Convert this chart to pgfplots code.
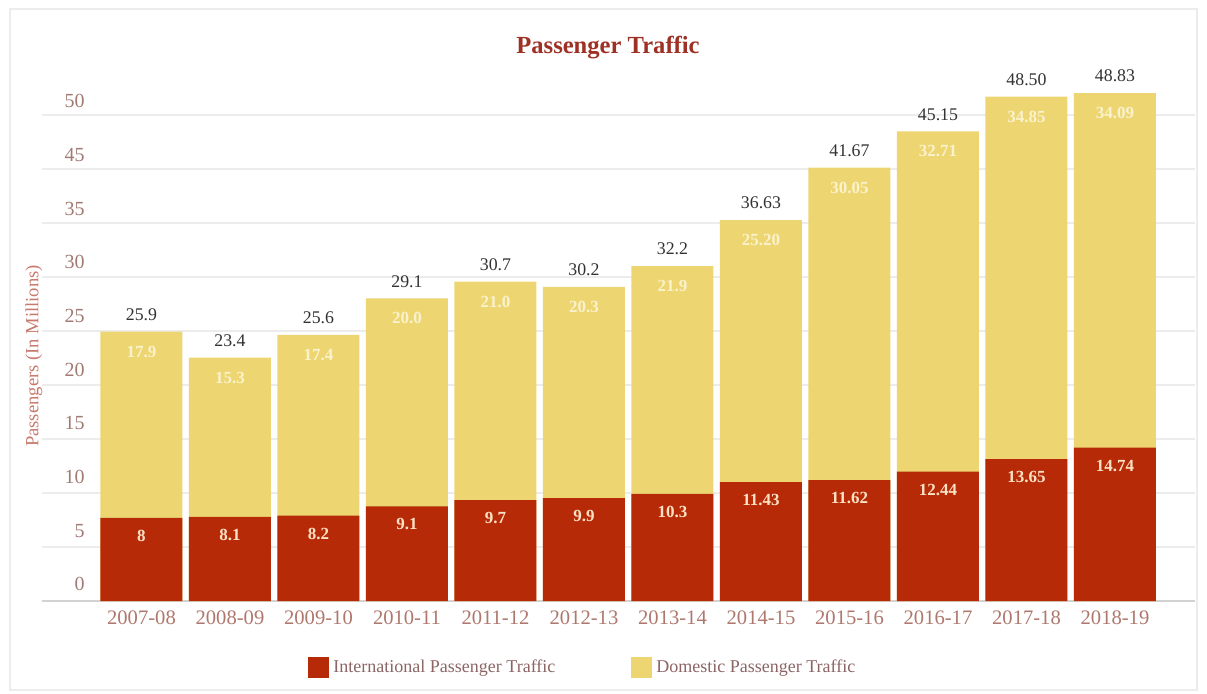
\documentclass[border=0pt]{standalone}
\usepackage{pgfplots}
\pgfplotsset{compat=1.18}
\usepackage{fontspec}
\setmainfont{Liberation Serif}
\definecolor{intl}{RGB}{182,42,8}
\definecolor{dom}{RGB}{237,214,114}
\definecolor{titlec}{RGB}{158,48,36}
\definecolor{ylabc}{RGB}{200,120,108}
\definecolor{tickc}{RGB}{175,120,110}
\definecolor{legc}{RGB}{140,100,100}
\definecolor{gridc}{RGB}{236,236,236}
\definecolor{totc}{RGB}{50,50,50}
\definecolor{inlab}{RGB}{250,242,205}
\definecolor{redlab}{RGB}{252,226,196}
\begin{document}
\begin{tikzpicture}
\path[use as bounding box] (0,0) rectangle (603.5pt,346.5pt);
\draw[gray!15, line width=0.8pt] (5pt,1.5pt) rectangle (598.5pt,342pt);
\node[font=\bfseries\fontsize{12.3}{14}\selectfont, text=titlec] at (304pt,322.5pt) {Passenger Traffic};
\node[rotate=90, font=\fontsize{9.3}{11}\selectfont, text=ylabc] at (17pt,168.5pt) {Passengers (In Millions)};
\begin{axis}[
  at={(21pt,46pt)}, anchor=south west, scale only axis,
  width=576.5pt, height=286pt,
  xmin=-1.124, xmax=11.904, ymin=0, ymax=55,
  axis line style={draw=none},
  major tick length=0pt,
  xtick={0,1,2,3,4,5,6,7,8,9,10,11},
  xticklabels={2007-08,2008-09,2009-10,2010-11,2011-12,2012-13,2013-14,2014-15,2015-16,2016-17,2017-18,2018-19},
  xticklabel style={font=\fontsize{10.3}{12}\selectfont, text=tickc, yshift=-1.5pt},
  ytick={1.6,6.76,11.92,17.08,22.24,27.4,32.56,37.72,42.88,48.04},
  yticklabels={0,5,10,15,20,25,30,35,45,50},
  yticklabel style={font=\fontsize{10}{12}\selectfont, text=tickc!70!gray, anchor=east, xshift=24.8pt},
  extra y ticks={0,5.19,10.38,15.57,20.76,25.95,31.14,36.33,41.52,46.71},
  extra y tick labels={},
  extra y tick style={grid=major, major grid style={gridc, line width=0.8pt}},
  legend columns=2,
  legend style={at={(0.470,-0.117)}, anchor=center, draw=none, fill=none,
    font=\fontsize{9}{11}\selectfont, text=legc,
    /tikz/every even column/.append style={column sep=36pt}},
  legend image code/.code={\fill[#1, draw=none] (0pt,-5.25pt) rectangle (10.5pt,5.25pt);},
]
\addlegendimage{fill=intl, draw=none}
\addlegendentry{International Passenger Traffic}
\addlegendimage{fill=dom, draw=none}
\addlegendentry{Domestic Passenger Traffic}

\draw[gray!35, line width=0.8pt] (axis cs:-1.124,0) -- (axis cs:11.904,0);

% total bars (domestic on top of international)
\addplot[ybar, bar width=41pt, bar shift=0pt, fill=dom, draw=none, forget plot] coordinates {
(0,25.9) (1,23.4) (2,25.6) (3,29.1) (4,30.7) (5,30.2) (6,32.2) (7,36.63) (8,41.67) (9,45.15) (10,48.50) (11,48.83)};
% international bars
\addplot[ybar, bar width=41pt, bar shift=0pt, fill=intl, draw=none, forget plot] coordinates {
(0,8) (1,8.1) (2,8.2) (3,9.1) (4,9.7) (5,9.9) (6,10.3) (7,11.43) (8,11.62) (9,12.44) (10,13.65) (11,14.74)};

% total labels
\addplot[only marks, mark=none, forget plot, nodes near coords, point meta=explicit symbolic,
  every node near coord/.append style={anchor=center, yshift=8.5pt, font=\fontsize{8.9}{10}\selectfont, text=totc}]
  table[meta=lab] {
x y lab
0 25.9 25.9
1 23.4 23.4
2 25.6 25.6
3 29.1 29.1
4 30.7 30.7
5 30.2 30.2
6 32.2 32.2
7 36.63 36.63
8 41.67 41.67
9 45.15 45.15
10 48.50 48.50
11 48.83 48.83
};
% domestic labels
\addplot[only marks, mark=none, forget plot, nodes near coords, point meta=explicit symbolic,
  every node near coord/.append style={anchor=center, yshift=-10pt, font=\bfseries\fontsize{8.5}{10}\selectfont, text=inlab}]
  table[meta=lab] {
x y lab
0 25.9 17.9
1 23.4 15.3
2 25.6 17.4
3 29.1 20.0
4 30.7 21.0
5 30.2 20.3
6 32.2 21.9
7 36.63 25.20
8 41.67 30.05
9 45.15 32.71
10 48.50 34.85
11 48.83 34.09
};
% international labels
\addplot[only marks, mark=none, forget plot, nodes near coords, point meta=explicit symbolic,
  every node near coord/.append style={anchor=center, yshift=-9pt, font=\bfseries\fontsize{8.5}{10}\selectfont, text=redlab}]
  table[meta=lab] {
x y lab
0 8 8
1 8.1 8.1
2 8.2 8.2
3 9.1 9.1
4 9.7 9.7
5 9.9 9.9
6 10.3 10.3
7 11.43 11.43
8 11.62 11.62
9 12.44 12.44
10 13.65 13.65
11 14.74 14.74
};
\end{axis}
\end{tikzpicture}
\end{document}
